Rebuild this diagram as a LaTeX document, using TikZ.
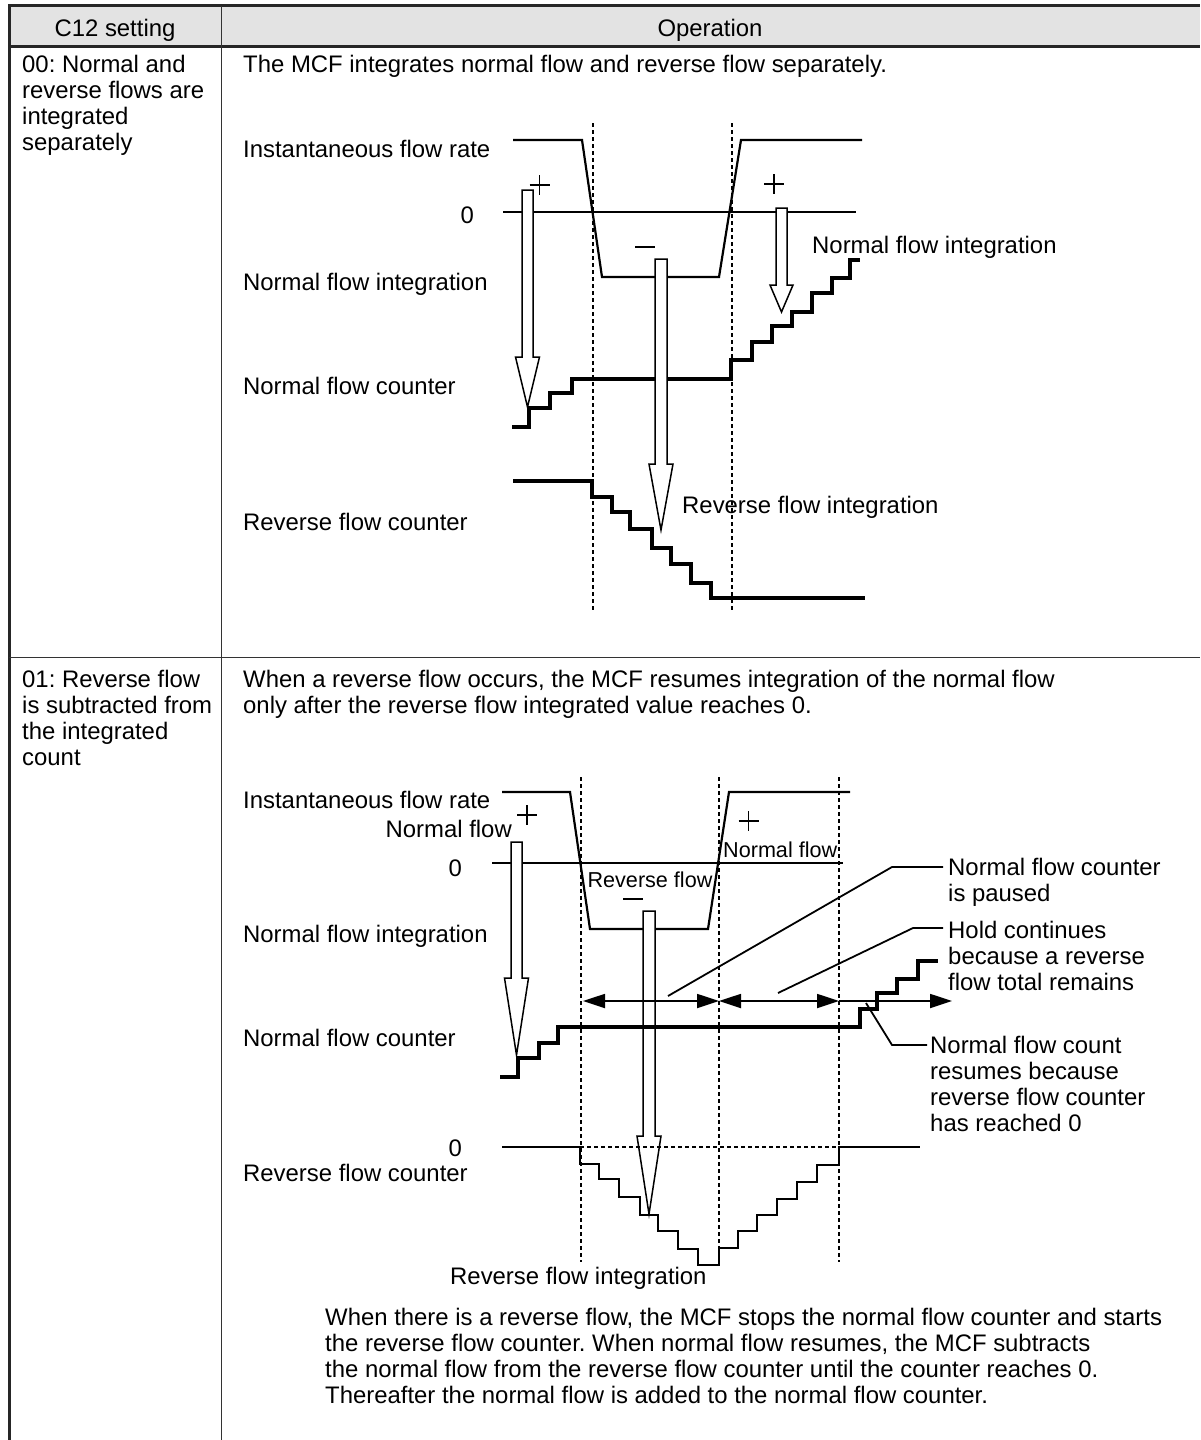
\documentclass[tikz,border=0pt]{standalone}
\usepackage{fontspec}
\setmainfont{Liberation Sans}
\usetikzlibrary{arrows.meta}
\frenchspacing
\begin{document}
\begin{tikzpicture}[x=1pt, y=-1pt,
		font=\fontsize{23.9}{26}\selectfont,
		every node/.style={inner sep=0pt},
		frameline/.style={line width=3pt, color=black!85},
		gridline/.style={line width=1.8pt, color=black!80},
		wave/.style={line width=2.2pt},
		zeroline/.style={line width=1.3pt},
		counter/.style={line width=3.6pt},
		counterthin/.style={line width=1.8pt},
		timeline/.style={line width=1.6pt, dash pattern=on 4pt off 3pt},
		hollow/.style={line width=1.5pt, fill=white},
		sign/.style={line width=1.2pt},
		spanarrow/.style={line width=1.8pt, >={Triangle[length=22pt, width=14pt]}},
		leader/.style={line width=1.8pt},
		small/.style={font=\fontsize{21.6}{24}\selectfont}]
		\useasboundingbox (0,0) rectangle (1200,1440);

		\fill[black!11] (9,5) rectangle (1200,46.5);
		\draw[frameline] (9,1440) -- (9,5.5) -- (1200,5.5);
		\draw[frameline] (9,46.5) -- (1200,46.5);
		\draw[gridline] (221.5,5.5) -- (221.5,1440);
		\draw[gridline] (9,657.5) -- (1200,657.5);

		\node[anchor=base] (setting) at (115,36) {C12 setting};
		\node[anchor=base] (operation) at (710,36) {Operation};
		\node[anchor=north west, align=left] (set00) at (22,55) {00: Normal and\\reverse flows are\\integrated\\separately};
		\node[anchor=north west, align=left] (set01) at (22,670) {01: Reverse flow\\is subtracted from\\the integrated\\count};
		\node[anchor=base west] (op00) at (243,72) {The MCF integrates normal flow and reverse flow separately.};
		\node[anchor=north west, align=left] (op01) at (243,670) {When a reverse flow occurs, the MCF resumes integration of the normal flow\\only after the reverse flow integrated value reaches 0.};

		% 00: separate integration
		\node[anchor=base west] (rate1) at (243,157) {Instantaneous flow rate};
		\node[anchor=base east] (zero1) at (474,223) {0};
		\node[anchor=base west] (nint1) at (243,290) {Normal flow integration};
		\node[anchor=base west] (ncnt1) at (243,394) {Normal flow counter};
		\node[anchor=base west] (rcnt1) at (243,530) {Reverse flow counter};
		\node[anchor=base west] (nintb1) at (812,253) {Normal flow integration};
		\node[anchor=base west] (rintb1) at (682,513) {Reverse flow integration};

		\draw[timeline] (593,123) -- (593,612);
		\draw[timeline] (732,123) -- (732,612);
		\draw[zeroline] (503,212) -- (856,212);
		\draw[wave] (513,140) -- (582,140) -- (602,277) -- (719,277) -- (741,140) -- (862,140);
		\draw[counter] (512,427) -| (529,408) -| (550,393) -| (572,379) -| (731,360) -| (752,342)
			-| (772,326) -| (792,312) -| (812,293) -| (832,278) -| (850,260) -- (860,260);
		\draw[counter] (513,481) -| (592,497) -| (612,512) -| (630,529) -| (652,548) -| (671,564)
			-| (691,583) -| (711,598) -- (865,598);

		\draw[hollow] (522,190) -- (533,190) -- (533,357) -- (539.5,357) -- (527.5,407) -- (515.5,357) -- (522,357) -- cycle;
		\draw[hollow] (655,259) -- (667,259) -- (667,464) -- (673,464) -- (661,530) -- (649,464) -- (655,464) -- cycle;
		\draw[hollow] (776,208) -- (787,208) -- (787,285) -- (793,285) -- (781.5,312) -- (770,285) -- (776,285) -- cycle;
		\draw[sign] (529.5,185) -- (549.5,185) (539.5,175) -- (539.5,195);
		\draw[sign] (764,184) -- (784,184) (774,174) -- (774,194);
		\draw[sign] (635,247) -- (655,247);

		% 01: reverse flow subtracted
		\node[anchor=base west] (rate2) at (243,808) {Instantaneous flow rate};
		\node[anchor=base east] (nflow2) at (512,837) {Normal flow};
		\node[anchor=base east] (zero2) at (462,876) {0};
		\node[anchor=base west] (nint2) at (243,942) {Normal flow integration};
		\node[anchor=base west] (ncnt2) at (243,1046) {Normal flow counter};
		\node[anchor=base east] (zero3) at (462,1156) {0};
		\node[anchor=base west] (rcnt2) at (243,1181) {Reverse flow counter};
		\node[anchor=base west] (rint2) at (450,1284) {Reverse flow integration};
		\node[small, anchor=base] (rflow2) at (650,887) {Reverse flow};
		\node[small, anchor=base west] (nflowb2) at (723,857) {Normal flow};

		\draw[timeline] (581,777) -- (581,1262);
		\draw[timeline] (719,777) -- (719,1262);
		\draw[timeline] (839,777) -- (839,1262);
		\draw[zeroline] (492,863) -- (843,863);
		\draw[wave] (502,792) -- (570,792) -- (590,929) -- (708,929) -- (729,792) -- (850,792);

		\draw[hollow] (511,842) -- (522,842) -- (522,978) -- (528.5,978) -- (516.5,1055) -- (504.5,978) -- (511,978) -- cycle;
		\draw[hollow] (643,911) -- (655,911) -- (655,1136) -- (661,1136) -- (649,1214) -- (637,1136) -- (643,1136) -- cycle;
		\draw[sign] (517,815) -- (537,815) (527,805) -- (527,825);
		\draw[sign] (738.5,821) -- (758.5,821) (748.5,811) -- (748.5,831);
		\draw[sign] (623,899) -- (643,899);

		\draw[counter] (500,1077) -| (518,1058) -| (539,1043) -| (558,1027) -| (860,1009) -| (877,993)
			-| (897,979) -| (918,961) -- (938,961);
		\draw[timeline] (580,1147) -- (839,1147);
		\draw[counterthin] (502,1147) -- (580,1147) |- (599,1164) |- (619,1179) |- (640,1197) |- (658,1215)
			|- (678,1231) |- (698,1249) |- (719,1265) |- (738,1248) |- (757,1231) |- (777,1215)
			|- (797,1199) |- (817,1182) |- (839,1165) |- (920,1147);

		\draw[spanarrow, <->] (583,1001) -- (719,1001);
		\draw[spanarrow, <->] (719,1001) -- (839,1001);
		\draw[spanarrow, ->] (839,1001) -- (952,1001);

		\node[anchor=north west, align=left] (paused) at (948,858) {Normal flow counter\\is paused};
		\node[anchor=north west, align=left] (hold) at (948,921) {Hold continues\\because a reverse\\flow total remains};
		\node[anchor=north west, align=left] (resume) at (930,1036) {Normal flow count\\resumes because\\reverse flow counter\\has reached 0};
		\draw[leader] (668,996) -- (892,867) -- (943,867);
		\draw[leader] (778,993) -- (913,928) -- (943,928);
		\draw[leader] (866,1003) -- (892,1045) -- (927,1045);

		\node[anchor=north west, align=left] (note) at (325,1308) {When there is a reverse flow, the MCF stops the normal flow counter and starts\\the reverse flow counter. When normal flow resumes, the MCF subtracts\\the normal flow from the reverse flow counter until the counter reaches 0.\\Thereafter the normal flow is added to the normal flow counter.};
	\end{tikzpicture}
\end{document}
